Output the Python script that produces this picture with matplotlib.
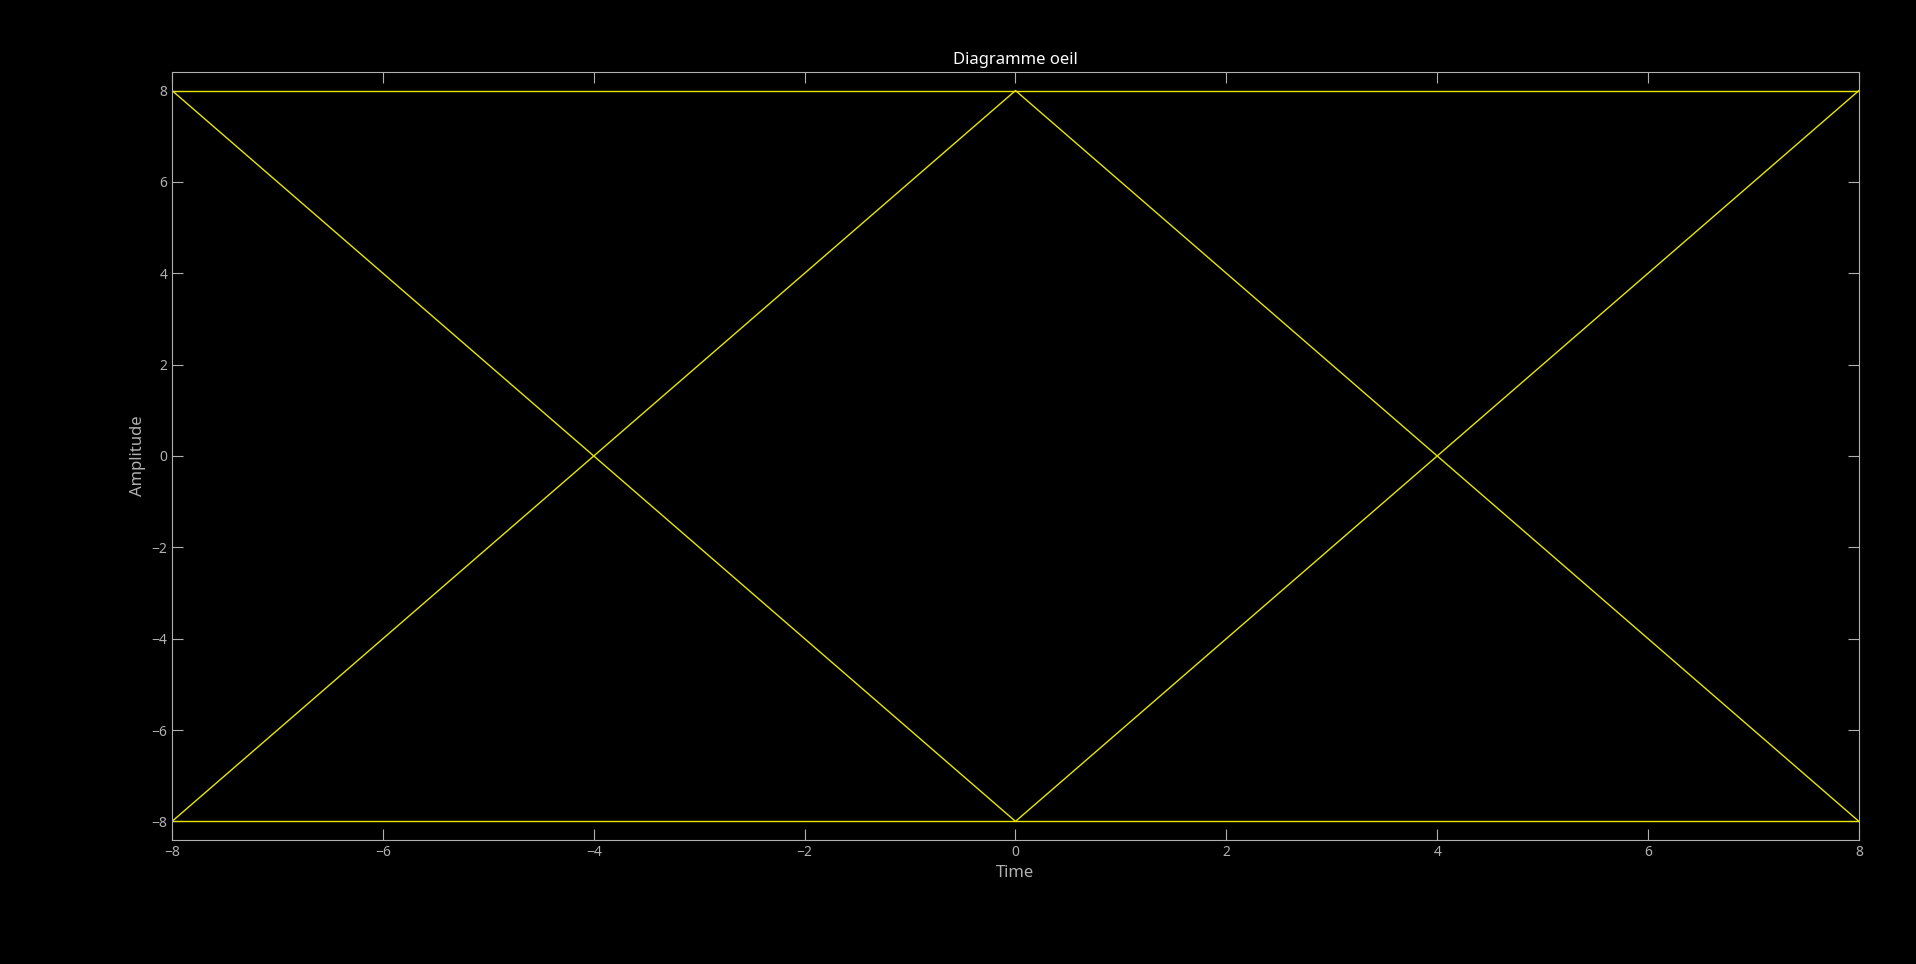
import matplotlib
matplotlib.use("Agg")
import matplotlib.pyplot as plt

plt.rcParams['font.family'] = ['Noto Sans', 'DejaVu Sans']

time = [-8, 0, 8]
traces = [
    [8, 8, 8],
    [-8, -8, -8],
    [8, -8, 8],
    [-8, 8, -8],
]
xticks = [-8, -6, -4, -2, 0, 2, 4, 6, 8]
yticks = [-8, -6, -4, -2, 0, 2, 4, 6, 8]

fig = plt.figure(figsize=(19.16, 9.64), dpi=100, facecolor='black')
ax = fig.add_axes([0.0898, 0.129, 0.8804, 0.796], facecolor='black')
for tr in traces:
    ax.plot(time, tr, color='#e6e600', linewidth=1.0)
ax.set_xlim(-8, 8)
ax.set_ylim(-8.4, 8.4)
ax.set_xticks(xticks)
ax.set_yticks(yticks)
gc = '#b0b0b0'
for s in ax.spines.values():
    s.set_color(gc)
    s.set_linewidth(0.8)
ax.tick_params(direction='in', colors=gc, labelsize=10, length=8,
               top=True, right=True, labelcolor=gc)
ax.set_xlabel('Time', color=gc, fontsize=12)
ax.set_ylabel('Amplitude', color=gc, fontsize=12)
ax.set_title('Diagramme oeil', color='white', fontsize=12, fontweight='bold', pad=6)
fig.savefig('out.png', facecolor='black')
